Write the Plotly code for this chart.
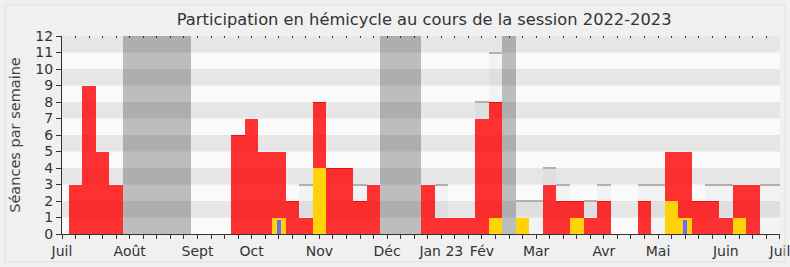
import plotly.graph_objects as go

# ---- data (one value per week, week 0 = début juillet 2022) ----
weeks = list(range(54))
presences = [0, 3, 9, 5, 3, 0, 0, 0, 0, 0,
             0, 0, 0, 6, 7, 5, 5, 2, 1, 8,
             4, 4, 2, 3, 0, 0, 0, 3, 1, 1,
             1, 7, 8, 0, 0, 0, 3, 2, 2, 1,
             2, 0, 0, 2, 0, 5, 5, 2, 2, 1,
             3, 3, 0, 0]
participations = [0] * 54
for w, v in {16: 1, 19: 4, 32: 1, 34: 1, 38: 1, 45: 2, 46: 1, 50: 1}.items():
    participations[w] = v
questions = [0] * 54
for w, v in {16: 0.85, 46: 0.85}.items():
    questions[w] = v
mediane = [0, 3, 3, 3, 3, 0, 0, 0, 0, 0,
           0, 0, 0, 5, 5, 4, 4, 2, 3, 3,
           3, 3, 3, 3, 0, 0, 0, 3, 3, 1,
           1, 8, 11, 0, 2, 2, 4, 3, 2, 2,
           3, 0, 0, 3, 3, 3, 3, 2, 3, 3,
           3, 3, 3, 3]
vacances_weeks = [5, 6, 7, 8, 9, 24, 25, 26, 33]
vacances = [12 if w in vacances_weeks else 0 for w in weeks]

month_weeks = [0, 5, 10, 14, 19, 24, 28, 31, 35, 40, 44, 49, 53]
month_labels = ["Juil", "Août", "Sept", "Oct", "Nov", "Déc", "Jan 23", "Fév",
                "Mar", "Avr", "Mai", "Juin", "Juil"]
y_max = 12

FONT = "DejaVu Sans"
fig = go.Figure()

def bar(y, color, base=None, width=1.0, name=""):
    fig.add_trace(go.Bar(x=weeks, y=y, base=base, width=width,
                         marker=dict(color=color, line=dict(width=0)),
                         name=name, showlegend=False, hoverinfo="skip"))

# median presence (light overlay + top line where it shows above the red bar)
bar(mediane, "rgba(0,0,0,0.028)", name="médiane")
line_h = 0.08
visible_line = [m > p for m, p in zip(mediane, presences)]
bar([line_h if v else 0 for v in visible_line], "#b0b0b0",
    base=[m - line_h / 2 for m in mediane], name="médiane ligne")
# vacations
bar(vacances, "rgba(0,0,0,0.245)", name="vacances")
# presences
bar(presences, "rgba(255,0,0,0.8)", name="présences")
# participations
bar(participations, "#ffd20a", name="participations")
# questions
bar(questions, "#6b6bff", width=0.3, name="questions")
top_h = 0.06
bar([top_h if p > 0 else 0 for p in presences], "rgba(240,0,0,0.7)",
    base=[p - top_h for p in presences], name="présences bord")

# invisible trace for top mirror ticks axis
fig.add_trace(go.Scatter(x=[0, 53], y=[0, 0], xaxis="x2", mode="markers",
                         marker=dict(opacity=0), showlegend=False, hoverinfo="skip"))

shapes = []
for k in range(1, y_max, 2):
    shapes.append(dict(type="rect", xref="paper", yref="y", x0=0, x1=1,
                       y0=k, y1=k + 1, fillcolor="#e6e6e6",
                       line=dict(width=0), layer="below"))
shapes.append(dict(type="rect", xref="paper", yref="paper",
                   x0=(5 - 62) / 718, x1=(785 - 62) / 718,
                   y0=-(262 - 234) / 198, y1=1 + (36 - 5) / 198,
                   line=dict(color="#e2e2e2", width=1), fillcolor="rgba(0,0,0,0)",
                   layer="above"))

fig.update_layout(
    width=790, height=267,
    margin=dict(l=62, r=10, t=36, b=33, autoexpand=False),
    paper_bgcolor="#f0f0f0",
    plot_bgcolor="#fafafa",
    barmode="overlay",
    bargap=0,
    shapes=shapes,
    title=dict(text="Participation en hémicycle au cours de la session 2022-2023",
               x=(62 + 780) / 2 / 790 + 0.004, xanchor="center", y=1 - 19 / 267, yanchor="middle",
               font=dict(family=FONT, size=16.3, color="#333333")),
    font=dict(family=FONT, size=14, color="#333333"),
    xaxis=dict(range=[0, 53.001], tickmode="array", tickvals=weeks,
               ticktext=[month_labels[month_weeks.index(w)] if w in month_weeks else ""
                         for w in weeks],
               ticks="outside", ticklen=4, tickcolor="#333333", showline=True,
               linecolor="#333333", linewidth=1, showgrid=False, zeroline=False,
               ticklabeloverflow="allow", automargin=False,
               tickfont=dict(family=FONT, size=14, color="#333333")),
    xaxis2=dict(range=[0, 53.001], overlaying="x", side="top", tickmode="array",
                tickvals=weeks, ticks="inside", ticklen=2, tickcolor="#333333",
                showticklabels=False, showline=False, showgrid=False, zeroline=False,
                automargin=False),
    yaxis=dict(range=[0, y_max], tickmode="array", tickvals=list(range(0, y_max + 1)),
               ticks="outside", ticklen=5, tickcolor="#333333", showline=True,
               linecolor="#333333", linewidth=1, showgrid=False, zeroline=False,
               automargin=False,
               title=dict(text="Séances par semaine", standoff=11,
                          font=dict(family=FONT, size=14.5, color="#444444")),
               tickfont=dict(family=FONT, size=14, color="#333333")),
)

fig.write_html("out.html")
